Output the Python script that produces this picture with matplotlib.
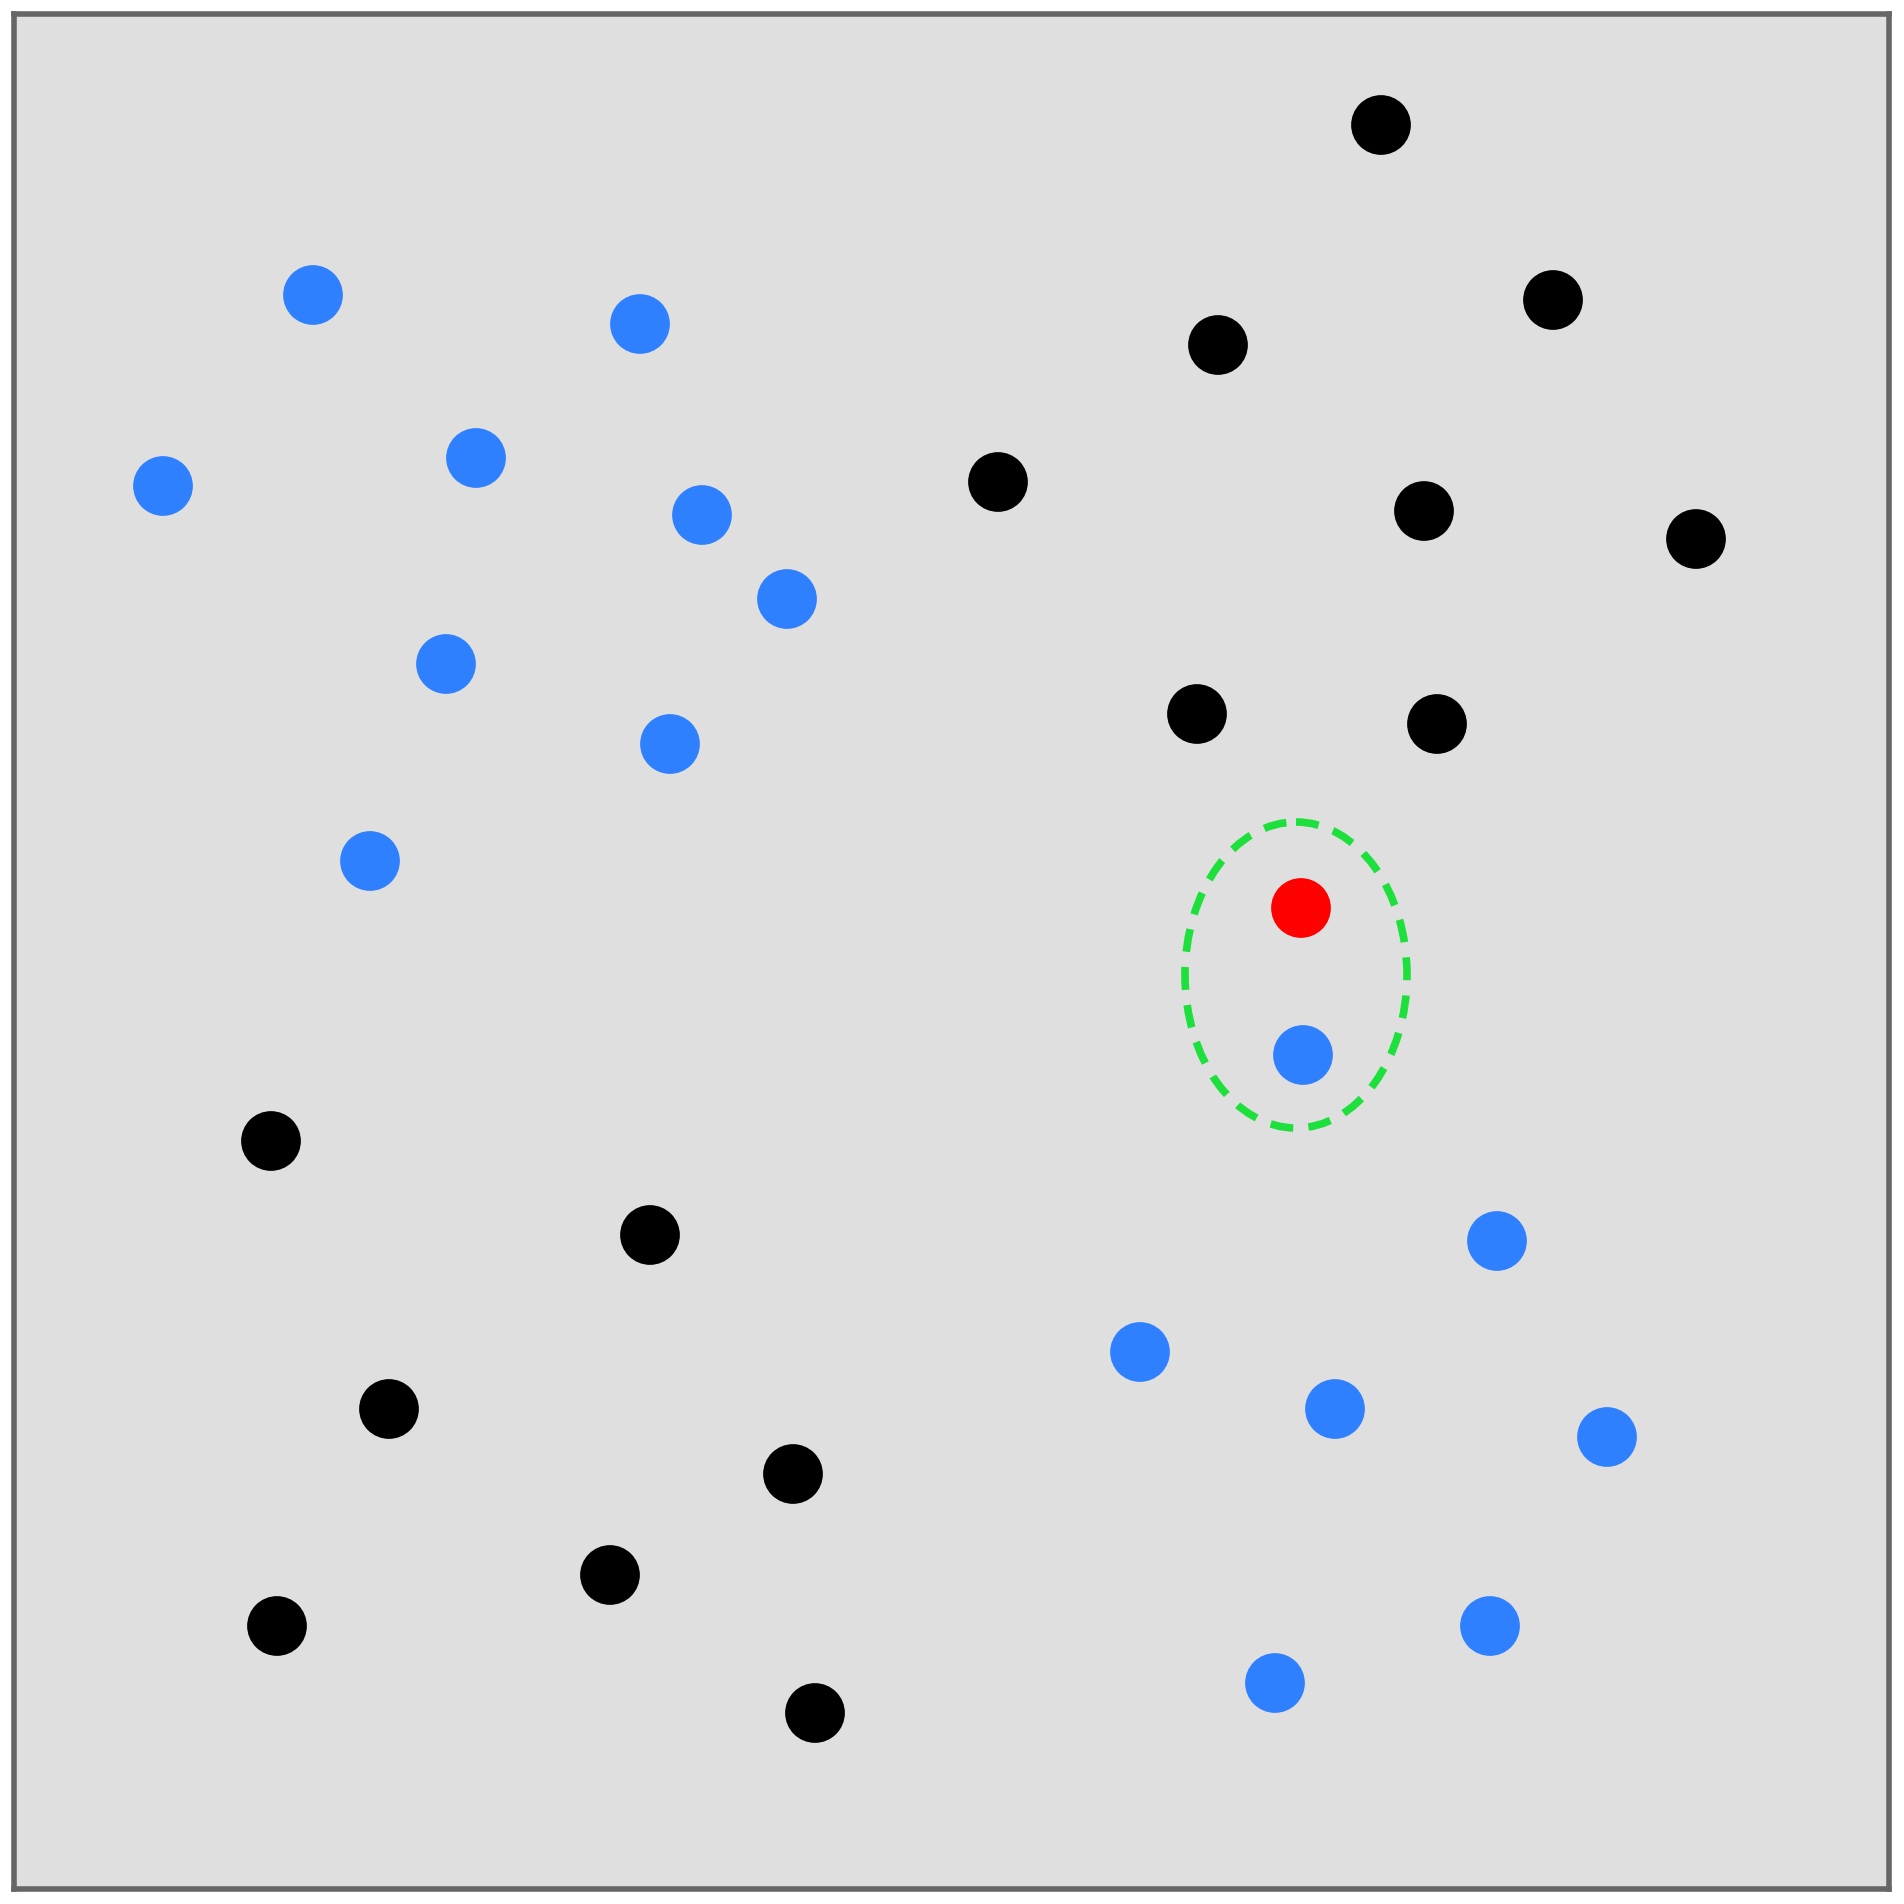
import matplotlib
matplotlib.use("Agg")
import matplotlib.pyplot as plt
from matplotlib.patches import Ellipse

# point positions (pixel-like units of the canvas)
blue_x = [313, 640, 163, 476, 702, 787, 446, 670, 370, 1303, 1497, 1140, 1335, 1607, 1490, 1275]
blue_y = [295, 324, 486, 458, 515, 599, 664, 744, 861, 1055, 1241, 1352, 1409, 1437, 1626, 1683]
black_x = [1381, 1218, 1553, 998, 1424, 1696, 1197, 1437, 271, 650, 389, 793, 610, 277, 815]
black_y = [125, 345, 300, 482, 511, 539, 714, 724, 1141, 1235, 1409, 1474, 1575, 1626, 1713]
red_x = [1301]
red_y = [908]
ellipse_center = (1296, 975)
ellipse_w, ellipse_h = 222, 306

fig = plt.figure(figsize=(19.04, 19.04), dpi=100)
ax = fig.add_axes([14 / 1904, 1 - 1889 / 1904, 1875 / 1904, 1875 / 1904])
ax.set_facecolor("#dfdfdf")
ax.set_xlim(14, 1889)
ax.set_ylim(1889, 14)
ax.set_xticks([])
ax.set_yticks([])
for s in ax.spines.values():
    s.set_color("#666666")
    s.set_linewidth(4.0)

size = 1850
ax.scatter(blue_x, blue_y, s=size, color="#2f80ff", edgecolors="none", zorder=3)
ax.scatter(black_x, black_y, s=size, color="#000000", edgecolors="none", zorder=3)
ax.scatter(red_x, red_y, s=size, color="#ff0000", edgecolors="none", zorder=3)

ell = Ellipse(ellipse_center, ellipse_w, ellipse_h, fill=False, edgecolor="#1ee03c",
              linewidth=5.5, linestyle=(0, (3.0, 2.0)), zorder=2)
ax.add_patch(ell)

fig.savefig("out.png", dpi=100, facecolor="white")
